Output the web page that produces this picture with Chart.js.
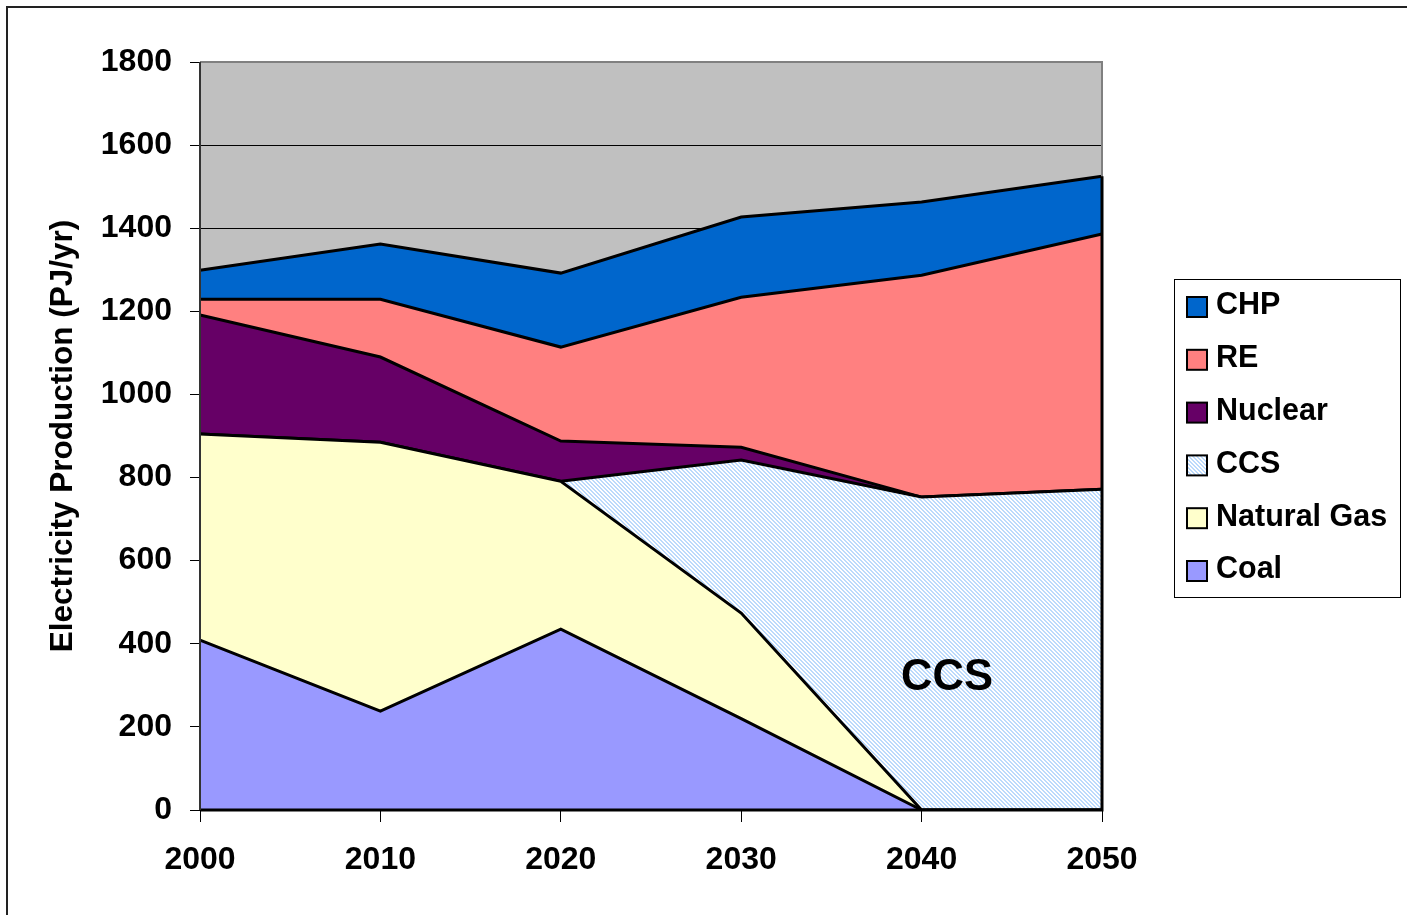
<!DOCTYPE html>
<html>
<head>
<meta charset="utf-8">
<script src="https://cdn.jsdelivr.net/npm/chart.js@4.4.1/dist/chart.umd.min.js"></script>
<style>
  html, body { margin: 0; padding: 0; background: #fff; }
  #wrap { width: 1407px; height: 915px; position: relative; }
</style>
</head>
<body>
<div id="wrap"><canvas id="chart" width="1407" height="915"></canvas></div>
<script>
// Dados do gráfico
const years = ['2000', '2010', '2020', '2030', '2040', '2050'];
const coal = [409, 238, 435, 220, 0, 0];
const naturalGas = [496, 647, 356, 254, 0, 0];
const ccs = [0, 0, 0, 368, 753, 772];
const nuclear = [286, 205, 97, 31, 0, 0];
const re = [38, 139, 226, 361, 534, 614];
const chp = [70, 133, 178, 193, 176, 139];
const yTicks = [0, 200, 400, 600, 800, 1000, 1200, 1400, 1600, 1800];

const FONT = '"Liberation Sans", Arial, sans-serif';

// Padrão hachurado para CCS
function makeHatch() {
    const c = document.createElement('canvas');
    c.width = 4; c.height = 4;
    const g = c.getContext('2d');
    g.fillStyle = '#ffffff';
    g.fillRect(0, 0, 4, 4);
    g.fillStyle = '#bcdafc';
    for (let y = 0; y < 4; y++) {
        for (let x = 0; x < 4; x++) {
            const d = ((x - y) % 4 + 4) % 4;
            if (d === 0 || d === 1) g.fillRect(x, y, 1, 1);
        }
    }
    return g.createPattern(c, 'repeat');
}
const hatch = makeHatch();

const series = [
    { label: 'Coal', data: coal, color: '#9999ff' },
    { label: 'Natural Gas', data: naturalGas, color: '#ffffcc' },
    { label: 'CCS', data: ccs, color: hatch },
    { label: 'Nuclear', data: nuclear, color: '#660066' },
    { label: 'RE', data: re, color: '#ff8080' },
    { label: 'CHP', data: chp, color: '#0066cc' }
];

// Fundo cinza, moldura e legenda
const decor = {
    id: 'decor',
    beforeDraw(chart) {
        const ctx = chart.ctx;
        const a = chart.chartArea;
        ctx.save();
        ctx.fillStyle = '#ffffff';
        ctx.fillRect(0, 0, chart.width, chart.height);
        ctx.strokeStyle = '#222';
        ctx.lineWidth = 2;
        ctx.strokeRect(7, 7, chart.width + 20, chart.height + 20);
        ctx.fillStyle = '#c0c0c0';
        ctx.fillRect(a.left, a.top, a.right - a.left, a.bottom - a.top);
        ctx.restore();
    },
    afterDatasetsDraw(chart) {
        const ctx = chart.ctx;
        const a = chart.chartArea;
        ctx.save();
        // bordas da área do gráfico
        ctx.strokeStyle = '#808080';
        ctx.lineWidth = 2;
        ctx.beginPath();
        ctx.moveTo(a.left, a.top);
        ctx.lineTo(a.right, a.top);
        ctx.lineTo(a.right, a.bottom);
        ctx.stroke();
        ctx.strokeStyle = '#000';
        ctx.lineWidth = 3;
        const yScale = chart.scales.y;
        const topVal = chp.map((v, i) => v + re[i] + nuclear[i] + ccs[i] + naturalGas[i] + coal[i]);
        ctx.beginPath();
        ctx.moveTo(a.right, yScale.getPixelForValue(topVal[topVal.length - 1]));
        ctx.lineTo(a.right, a.bottom);
        ctx.lineTo(a.left, a.bottom);
        ctx.stroke();
        ctx.strokeStyle = '#333';
        ctx.lineWidth = 2;
        ctx.beginPath();
        ctx.moveTo(a.left, a.top);
        ctx.lineTo(a.left, a.bottom);
        ctx.stroke();

        // rótulo CCS
        ctx.fillStyle = '#000';
        ctx.font = 'bold 43.5px ' + FONT;
        ctx.textAlign = 'center';
        ctx.textBaseline = 'middle';
        ctx.fillText('CCS', 947, 678);

        // legenda
        ctx.fillStyle = '#fff';
        ctx.fillRect(1174, 279, 226, 318);
        ctx.strokeStyle = '#000';
        ctx.lineWidth = 1;
        ctx.strokeRect(1174.5, 279.5, 226, 318);
        const order = chart.data.datasets.slice().reverse();
        order.forEach((ds, i) => {
            const cy = 306 + i * 52.8;
            ctx.fillStyle = ds.backgroundColor;
            ctx.fillRect(1187, cy - 9, 20, 20);
            ctx.strokeStyle = '#000';
            ctx.lineWidth = 2;
            ctx.strokeRect(1187, cy - 9, 20, 20);
            ctx.fillStyle = '#000';
            ctx.font = 'bold 30.5px ' + FONT;
            ctx.textAlign = 'left';
            ctx.textBaseline = 'middle';
            ctx.fillText(ds.label, 1216, cy);
        });
        ctx.restore();
    }
};

new Chart(document.getElementById('chart'), {
    type: 'line',
    data: {
        labels: years,
        datasets: series.map((s, i) => ({
            label: s.label,
            data: s.data,
            backgroundColor: s.color,
            borderColor: '#000',
            borderWidth: 3,
            pointRadius: 0,
            tension: 0,
            fill: i === 0 ? 'origin' : '-1'
        }))
    },
    options: {
        responsive: false,
        animation: false,
        devicePixelRatio: 1,
        layout: { padding: { top: 62, right: 305, left: 0, bottom: 0 } },
        plugins: {
            legend: { display: false },
            tooltip: { enabled: false }
        },
        scales: {
            x: {
                offset: false,
                afterFit(scale) { scale.height = 105; },
                grid: { display: true, drawOnChartArea: false, color: '#000', tickLength: 12, lineWidth: 1 },
                border: { display: false },
                ticks: { color: '#000', padding: 19, maxRotation: 0, font: { family: FONT, size: 32, weight: 'bold' } }
            },
            y: {
                stacked: true,
                min: 0,
                max: 1800,
                afterFit(scale) { scale.width = 200; },
                afterBuildTicks(scale) { scale.ticks = yTicks.map(v => ({ value: v })); },
                grid: { color: '#000', tickLength: 10, lineWidth: 1 },
                border: { display: false },
                ticks: {
                    color: '#000',
                    padding: 18,
                    font: { family: FONT, size: 32, weight: 'bold' },
                    callback: v => String(v)
                },
                title: {
                    display: true,
                    text: 'Electricity Production (PJ/yr)',
                    color: '#000',
                    padding: { top: 44, bottom: 0 },
                    font: { family: FONT, size: 31.5, weight: 'bold' }
                }
            }
        }
    },
    plugins: [decor]
});
</script>
</body>
</html>
